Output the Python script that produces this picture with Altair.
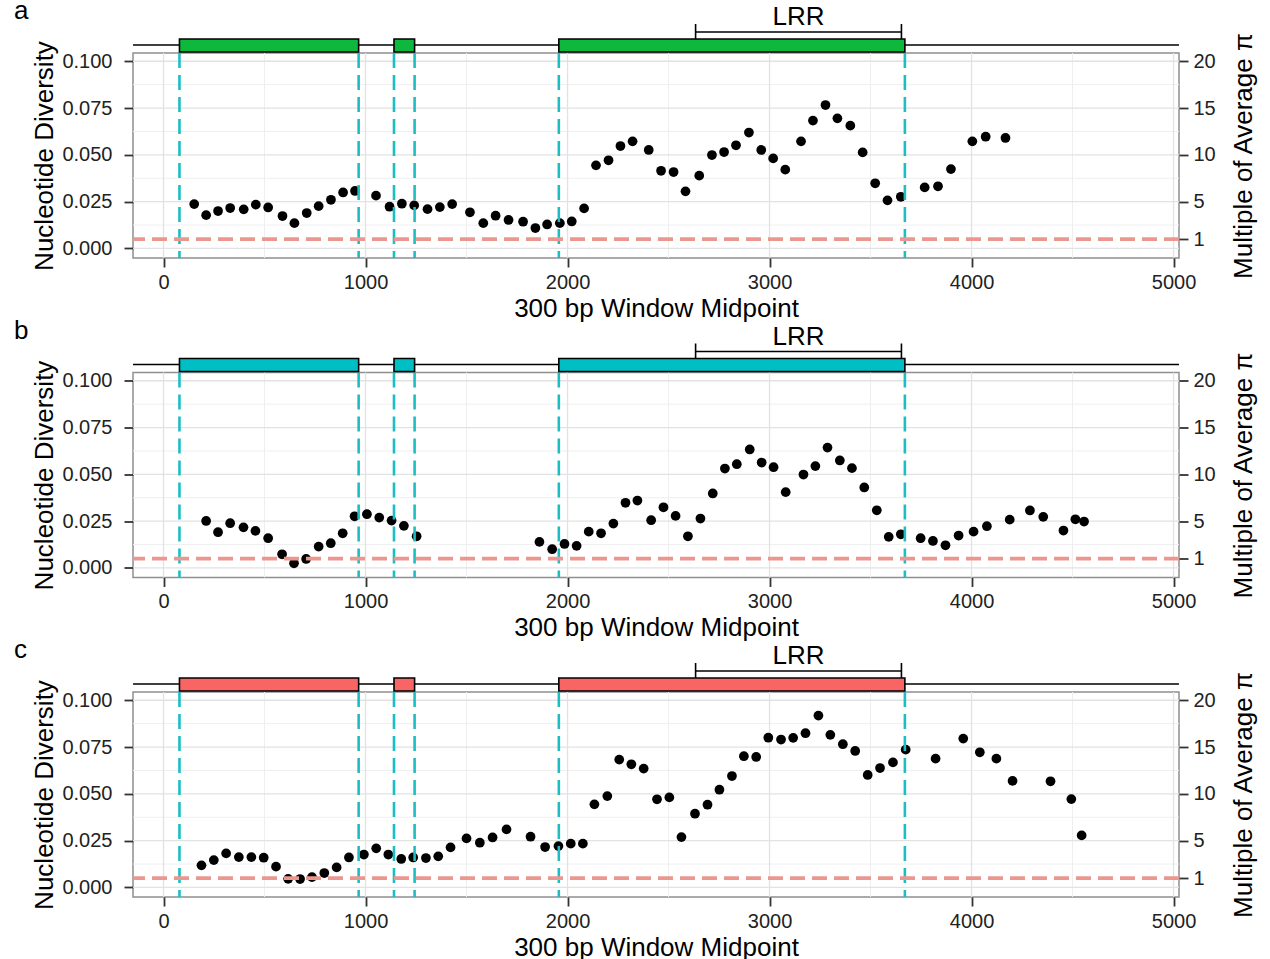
import altair as alt
import pandas as pd

# ---------------- data ----------------
a_pos = [152, 211, 270, 330, 397, 457, 518, 589, 648, 709, 768, 829, 889, 948, 1052, 1119, 1180, 1241,
         1307, 1368, 1429, 1517, 1583, 1644, 1708, 1780, 1841, 1899, 1962, 2021, 2082, 2141, 2203, 2262,
         2322, 2402, 2463, 2525, 2584, 2652, 2715, 2775, 2834, 2898, 2959, 3018, 3078, 3156, 3215, 3277,
         3336, 3400, 3461, 3523, 3584, 3650, 3768, 3834, 3898, 4004, 4070, 4168]
a_pi = [0.0237, 0.0178, 0.0200, 0.0216, 0.0209, 0.0234, 0.0219, 0.0173, 0.0135, 0.0189, 0.0226, 0.0260,
        0.0299, 0.0307, 0.0282, 0.0223, 0.0239, 0.0230, 0.0210, 0.0221, 0.0237, 0.0193, 0.0135, 0.0175,
        0.0152, 0.0143, 0.0109, 0.0128, 0.0135, 0.0144, 0.0214, 0.0444, 0.0471, 0.0547, 0.0572, 0.0526,
        0.0415, 0.0408, 0.0305, 0.0389, 0.0499, 0.0515, 0.0551, 0.0619, 0.0526, 0.0481, 0.0421, 0.0572,
        0.0683, 0.0766, 0.0695, 0.0656, 0.0513, 0.0348, 0.0257, 0.0276, 0.0326, 0.0332, 0.0424, 0.0572,
        0.0597, 0.0590]

b_pos = [211, 270, 330, 396, 455, 518, 587, 646, 706, 768, 828, 887, 946, 1007, 1068, 1129, 1190, 1253,
         1861, 1924, 1985, 2045, 2105, 2166, 2227, 2287, 2346, 2414, 2475, 2535, 2596, 2658, 2719, 2779,
         2838, 2902, 2961, 3020, 3080, 3168, 3227, 3287, 3348, 3408, 3469, 3531, 3590, 3650, 3748, 3809,
         3871, 3936, 4010, 4076, 4189, 4289, 4355, 4455, 4514, 4557]
b_pi = [0.0251, 0.0191, 0.0239, 0.0217, 0.0198, 0.0159, 0.0073, 0.0025, 0.0048, 0.0114, 0.0132, 0.0185,
        0.0276, 0.0287, 0.0269, 0.0253, 0.0225, 0.0169, 0.0139, 0.0100, 0.0128, 0.0118, 0.0194, 0.0185,
        0.0237, 0.0348, 0.0360, 0.0255, 0.0324, 0.0278, 0.0169, 0.0264, 0.0398, 0.0531, 0.0554, 0.0633,
        0.0563, 0.0538, 0.0405, 0.0499, 0.0544, 0.0643, 0.0574, 0.0533, 0.0430, 0.0308, 0.0166, 0.0180,
        0.0159, 0.0144, 0.0121, 0.0173, 0.0194, 0.0223, 0.0258, 0.0307, 0.0273, 0.0200, 0.0260, 0.0248]

c_pos = [188, 249, 310, 373, 435, 496, 557, 617, 676, 735, 796, 857, 918, 992, 1053, 1113, 1177, 1236,
         1299, 1360, 1421, 1500, 1566, 1629, 1698, 1817, 1889, 1955, 2016, 2076, 2133, 2197, 2256, 2316,
         2377, 2443, 2504, 2564, 2631, 2693, 2752, 2814, 2873, 2934, 2994, 3057, 3117, 3178, 3242, 3301,
         3363, 3424, 3486, 3547, 3611, 3674, 3822, 3959, 4041, 4123, 4203, 4391, 4494, 4545]
c_pi = [0.0118, 0.0146, 0.0182, 0.0162, 0.0162, 0.0159, 0.0111, 0.0046, 0.0045, 0.0055, 0.0077, 0.0107,
        0.0160, 0.0176, 0.0209, 0.0176, 0.0152, 0.0160, 0.0157, 0.0166, 0.0214, 0.0262, 0.0239, 0.0267,
        0.0310, 0.0271, 0.0216, 0.0221, 0.0234, 0.0234, 0.0444, 0.0488, 0.0683, 0.0658, 0.0635, 0.0471,
        0.0481, 0.0269, 0.0394, 0.0442, 0.0522, 0.0595, 0.0701, 0.0697, 0.0800, 0.0790, 0.0799, 0.0824,
        0.0918, 0.0815, 0.0765, 0.0729, 0.0601, 0.0638, 0.0668, 0.0736, 0.0688, 0.0795, 0.0722, 0.0688,
        0.0569, 0.0567, 0.0472, 0.0278]

exon_start = [79, 1141, 1957]
exon_end = [966, 1243, 3670]
lrr_start = 2634
lrr_end = 3653
avg_pi = 0.005

panel_labels = ["a", "b", "c"]
panel_fills = ["#0DB83C", "#00BFC4", "#F96464"]

x_ticks = [0, 1000, 2000, 3000, 4000, 5000]
x_minor = [500, 1500, 2500, 3500, 4500]
y_ticks = [0.0, 0.025, 0.05, 0.075, 0.1]
y_minor = [0.0125, 0.0375, 0.0625, 0.0875]
mult_ticks = [1, 5, 10, 15, 20]

X_DOMAIN = [-151, 5027]
Y_DOMAIN = [-0.0051, 0.1044]
W, H = 1046, 205
FONT = "Liberation Sans"


def panel(pos, pi, fill, label):
    xs = alt.Scale(domain=X_DOMAIN, nice=False, zero=False)
    ys = alt.Scale(domain=Y_DOMAIN, nice=False, zero=False)

    gx_major = alt.Chart(pd.DataFrame({"g": x_ticks})).mark_rule(color="#e2e2e2", strokeWidth=1.3).encode(
        x=alt.X("g:Q", scale=xs, axis=None))
    gx_minor = alt.Chart(pd.DataFrame({"g": x_minor})).mark_rule(color="#efefef", strokeWidth=1).encode(
        x=alt.X("g:Q", scale=xs, axis=None))
    gy_major = alt.Chart(pd.DataFrame({"g": y_ticks})).mark_rule(color="#e2e2e2", strokeWidth=1.3).encode(
        y=alt.Y("g:Q", scale=ys, axis=None))
    gy_minor = alt.Chart(pd.DataFrame({"g": y_minor})).mark_rule(color="#efefef", strokeWidth=1).encode(
        y=alt.Y("g:Q", scale=ys, axis=None))

    pts = alt.Chart(pd.DataFrame({"pos": pos, "pi": pi})).mark_circle(
        size=95, color="black", opacity=1).encode(
        x=alt.X("pos:Q", scale=xs,
                axis=alt.Axis(orient="bottom", values=x_ticks, format="d", title="300 bp Window Midpoint",
                              labelPadding=5, titlePadding=3, labelFlush=False)),
        y=alt.Y("pi:Q", scale=ys,
                axis=alt.Axis(orient="left", values=y_ticks, format=".3f", title="Nucleotide Diversity",
                              labelPadding=12, titlePadding=4)),
    )

    bounds = pd.DataFrame({"b": exon_start + exon_end})
    vlines = alt.Chart(bounds).mark_rule(color="#1CBEC4", strokeWidth=2.6, strokeDash=[15, 7]).encode(
        x=alt.X("b:Q", scale=xs, axis=None))

    mult_vals = [m * avg_pi for m in mult_ticks]
    avg_line = alt.Chart(pd.DataFrame({"avg": [avg_pi]})).mark_rule(
        color="#EC9690", strokeWidth=3.8, strokeDash=[15, 7]).encode(
        y=alt.Y("avg:Q", scale=ys,
                axis=alt.Axis(orient="right", values=mult_vals,
                              labelExpr=f"'' + round(datum.value / {avg_pi})",
                              title="Multiple of Average π", titleAngle=270, titleBaseline="top",
                              labelPadding=5, titlePadding=15)))

    one = pd.DataFrame({"k": [0]})
    track_line = alt.Chart(one).mark_rule(color="black", strokeWidth=1.6).encode(
        x=alt.value(0), x2=alt.value(W), y=alt.value(-8))
    exons = alt.Chart(pd.DataFrame({"s": exon_start, "e": exon_end})).mark_rect(
        fill=fill, stroke="black", strokeWidth=1.6).encode(
        x=alt.X("s:Q", scale=xs, axis=None), x2="e:Q", y=alt.value(-14), y2=alt.value(-1))

    lrr = pd.DataFrame({"s": [lrr_start], "e": [lrr_end], "m": [(lrr_start + lrr_end) / 2], "t": ["LRR"]})
    lrr_h = alt.Chart(lrr).mark_rule(color="black", strokeWidth=1.6).encode(
        x=alt.X("s:Q", scale=xs, axis=None), x2="e:Q", y=alt.value(-21))
    lrr_l = alt.Chart(lrr).mark_rule(color="black", strokeWidth=1.6).encode(
        x=alt.X("s:Q", scale=xs, axis=None), y=alt.value(-29), y2=alt.value(-14))
    lrr_r = alt.Chart(lrr).mark_rule(color="black", strokeWidth=1.6).encode(
        x=alt.X("e:Q", scale=xs, axis=None), y=alt.value(-29), y2=alt.value(-14))
    lrr_t = alt.Chart(lrr).mark_text(fontSize=26, baseline="middle", align="center", color="black").encode(
        x=alt.X("m:Q", scale=xs, axis=None), y=alt.value(-36), text="t:N")

    lab = alt.Chart(pd.DataFrame({"t": [label]})).mark_text(
        fontSize=26, align="left", baseline="middle", color="black").encode(
        x=alt.value(-119), y=alt.value(-42), text="t:N")

    return alt.layer(gx_minor, gy_minor, gx_major, gy_major, pts, vlines, avg_line,
                     track_line, exons, lrr_h, lrr_l, lrr_r, lrr_t, lab).resolve_axis(
        x="independent", y="independent").properties(width=W, height=H)


pa = panel(a_pos, a_pi, panel_fills[0], panel_labels[0])
pb = panel(b_pos, b_pi, panel_fills[1], panel_labels[1])
pc = panel(c_pos, c_pi, panel_fills[2], panel_labels[2])

chart = alt.vconcat(pa, pb, pc, spacing=114.5, bounds="flush").properties(
    padding={"left": 13, "top": -3, "right": 5, "bottom": 0}
).configure(font=FONT).configure_view(
    stroke="#8f8f8f", strokeWidth=1.5
).configure_axis(
    grid=False, domain=False, labelFontSize=20, titleFontSize=26, titleFontWeight="normal",
    labelColor="#222222", titleColor="black", tickColor="#333333", tickWidth=1.8, tickSize=9,
    labelFont=FONT, titleFont=FONT
)

chart.save("out.html", embed_options={"renderer": "svg", "actions": False})
